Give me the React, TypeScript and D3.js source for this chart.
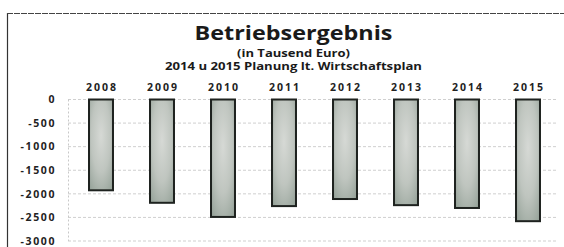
import * as d3 from "d3";

const years = ["2008", "2009", "2010", "2011", "2012", "2013", "2014", "2015"];
const values = [-1925, -2190, -2490, -2260, -2110, -2240, -2300, -2580];
const yTicks = [0, -500, -1000, -1500, -2000, -2500, -3000];

const W = 564;
const H = 247;
const font = "'Open Sans', sans-serif";
const cx = 293.5;

export default function App() {
  const x = d3.scaleBand<string>().domain(years).range([70.5, 558.5]).paddingInner(0.607).paddingOuter(0.3035);
  const y = d3.scaleLinear().domain([-3000, 0]).range([241, 99.5]);

  return (
    <svg width={W} height={H} style={{ position: "absolute", left: 0, top: 0, background: "#fff" }}>
      <defs>
        <radialGradient id="barFill" cx="50%" cy="40%" r="80%">
          <stop offset="0%" stopColor="#d6d9d5" />
          <stop offset="50%" stopColor="#bfc5bf" />
          <stop offset="100%" stopColor="#8f9d93" />
        </radialGradient>
      </defs>
      <rect x={0} y={0} width={W} height={H} fill="#fff" />
      {/* chart frame */}
      <line x1={7.5} y1={13} x2={7.5} y2={H} stroke="#333" strokeWidth={1.2} />
      <line x1={7} y1={13.5} x2={W} y2={13.5} stroke="#444" strokeWidth={1} strokeDasharray="6 1" />

      <text x={cx} y={40} textAnchor="middle" fontFamily={font} fontWeight={700} fontSize={19} fill="#1a1a1a" textLength={198} lengthAdjust="spacingAndGlyphs">
        Betriebsergebnis
      </text>
      <text x={cx} y={57} textAnchor="middle" fontFamily={font} fontWeight={700} fontSize={10.5} fill="#1a1a1a" textLength={113} lengthAdjust="spacingAndGlyphs">
        (in Tausend Euro)
      </text>
      <text x={cx} y={70} textAnchor="middle" fontFamily={font} fontWeight={700} fontSize={10.5} fill="#1a1a1a" textLength={257} lengthAdjust="spacingAndGlyphs">
        2014 u 2015 Planung lt. Wirtschaftsplan
      </text>

      {/* gridlines */}
      {yTicks.map((t) => (
        <line key={t} x1={68} x2={558} y1={y(t)} y2={y(t)} stroke="#cfcfcf" strokeWidth={1} strokeDasharray="3 2" />
      ))}
      <line x1={68.5} x2={68.5} y1={y(0)} y2={y(-3000)} stroke="#c8c8c8" strokeDasharray="2 2" />

      {/* y tick labels */}
      {yTicks.map((t) => (
        <text key={t} x={56} y={y(t)} dy="0.35em" textAnchor="end" fontFamily={font} fontWeight={700} fontSize={10.5} letterSpacing={1.6} fill="#222">
          {t}
        </text>
      ))}

      {/* year labels */}
      {years.map((yr) => (
        <text key={yr} x={x(yr)! + x.bandwidth() / 2} y={91} textAnchor="middle" fontFamily={font} fontWeight={700} fontSize={10.5} fill="#222" textLength={30} lengthAdjust="spacing">
          {yr}
        </text>
      ))}

      {/* bars */}
      {years.map((yr, i) => (
        <rect
          key={yr}
          x={x(yr)!}
          y={y(0)}
          width={x.bandwidth()}
          height={y(values[i]) - y(0)}
          fill="url(#barFill)"
          stroke="#1e221f"
          strokeWidth={2}
        />
      ))}
    </svg>
  );
}
